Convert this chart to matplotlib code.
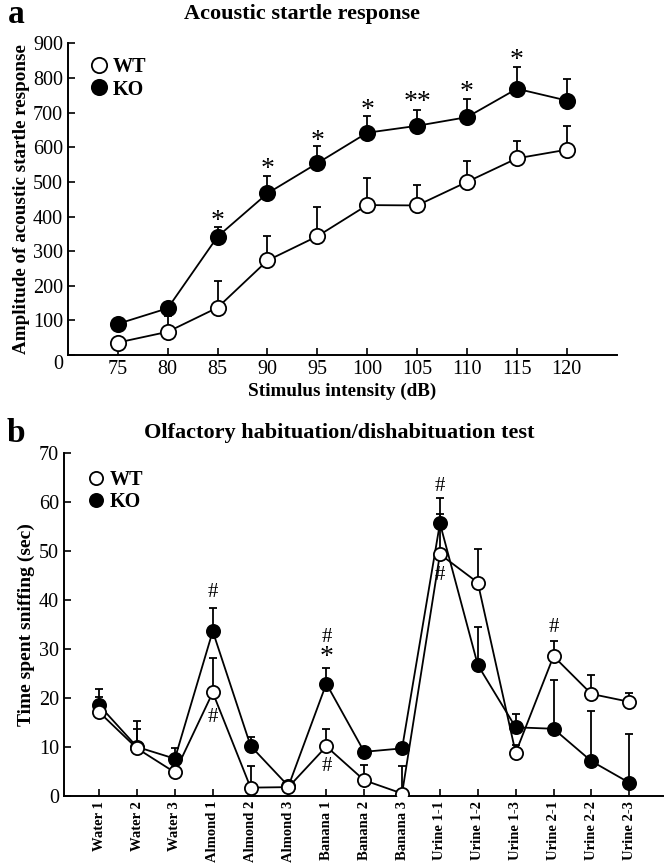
import matplotlib
matplotlib.use("Agg")
import matplotlib.pyplot as plt
import numpy as np

plt.rcParams['font.family'] = ['Liberation Serif', 'DejaVu Serif']

# panel a: acoustic startle
db = [75, 80, 85, 90, 95, 100, 105, 110, 115, 120]
wt_a = [36, 67, 137, 273, 343, 433, 432, 500, 568, 593]
wt_a_err = [10, 45, 77, 70, 85, 79, 60, 61, 49, 69]
ko_a = [90, 135, 342, 467, 554, 642, 662, 687, 769, 735]
ko_a_err = [10, 12, 27, 51, 50, 48, 45, 52, 62, 63]
stars_a = ['', '', '*', '*', '*', '*', '**', '*', '*', '']
stars_a_y = [0, 0, 398, 547, 630, 718, 742, 771, 862, 0]

# panel b: olfactory test
odors = ['Water 1', 'Water 2', 'Water 3', 'Almond 1', 'Almond 2', 'Almond 3',
         'Banana 1', 'Banana 2', 'Banana 3', 'Urine 1-1', 'Urine 1-2', 'Urine 1-3',
         'Urine 2-1', 'Urine 2-2', 'Urine 2-3']
wt_b = [17.1, 9.7, 4.8, 21.1, 1.7, 1.8, 10.1, 3.2, 0.5, 49.3, 43.5, 8.8, 28.5, 20.8, 19.2]
wt_b_err = [3.1, 5.5, 1.2, 7.1, 4.4, 1.0, 3.5, 3.2, 5.6, 8.2, 6.8, 1.5, 3.1, 3.8, 1.7]
ko_b = [18.5, 10.0, 7.6, 33.6, 10.2, 2.0, 22.9, 9.0, 9.7, 55.6, 26.7, 14.0, 13.7, 7.1, 2.7]
ko_b_err = [3.3, 3.7, 2.1, 4.8, 1.8, 0.9, 3.1, 1.0, 1.0, 5.1, 7.8, 2.7, 9.9, 10.2, 10.0]
# (category index, y, symbol)
marks_b = [(3, 41.4, '#'), (3, 15.9, '#'), (6, 32.4, '#'), (6, 29.2, '*'), (6, 6.1, '#'),
           (9, 63.2, '#'), (9, 44.9, '#'), (12, 34.3, '#')]

fig = plt.figure(figsize=(6.66, 8.68), dpi=100)


def style(ax):
    for s in ['top', 'right']:
        ax.spines[s].set_visible(False)
    for s in ['left', 'bottom']:
        ax.spines[s].set_linewidth(1.4)
    ax.tick_params(direction='in', length=5, width=1.2, labelsize=14.5)


def draw(ax, x, wt, wt_err, ko, ko_err, ms, top):
    ax.errorbar(x, ko, yerr=[np.zeros(len(ko)), ko_err], fmt='none', ecolor='black',
                elinewidth=1.3, capsize=3, capthick=1.3, zorder=1)
    ax.errorbar(x, wt, yerr=[np.zeros(len(wt)), wt_err], fmt='none', ecolor='black',
                elinewidth=1.3, capsize=3, capthick=1.3, zorder=1)
    ko_line, = ax.plot(x, ko, '-o', color='black', mfc='black', mec='black', ms=ms,
                       lw=1.3, mew=1.3, zorder=3, label='KO')
    wt_line, = ax.plot(x, wt, '-o', color='black', mfc='white', mec='black', ms=ms,
                       lw=1.3, mew=1.3, zorder=4, label='WT')
    ax.legend(handles=[wt_line, ko_line], loc='upper left', frameon=False,
              handlelength=0.6, handletextpad=0.4, borderaxespad=0.3,
              labelspacing=0.1, prop={'weight': 'bold', 'size': 14.5},
              bbox_to_anchor=(0.02, top))
    for h in ax.get_legend().legend_handles:
        h.set_linestyle('none')
        h.set_markersize(ms)


# ---- panel a ----
ax1 = fig.add_axes([0.102, 0.591, 0.824, 0.359])
style(ax1)
draw(ax1, db, wt_a, wt_a_err, ko_a, ko_a_err, 11, 1.0)
for xv, s, yv in zip(db, stars_a, stars_a_y):
    if s:
        ax1.text(xv, yv - 12, s, ha='center', va='center', fontsize=20)
ax1.set_xlim(70, 125)
ax1.set_ylim(0, 900)
ax1.set_xticks(db)
ax1.set_yticks(np.arange(0, 901, 100))
ax1.yaxis.get_major_ticks()[0].label1.set_verticalalignment('top')
ax1.set_xlabel('Stimulus intensity (dB)', fontsize=13.8, fontweight='bold', labelpad=3)
ax1.set_ylabel('Amplitude of acoustic startle response', fontsize=13.7,
               fontweight='bold', labelpad=2)
fig.text(0.453, 0.984, 'Acoustic startle response', ha='center', va='center',
         fontsize=16, fontweight='bold')
fig.text(0.012, 0.983, 'a', ha='left', va='center', fontsize=24, fontweight='bold')

# ---- panel b ----
ax2 = fig.add_axes([0.096, 0.083, 0.9, 0.3955])
style(ax2)
xb = np.arange(len(odors))
draw(ax2, xb, wt_b, wt_b_err, ko_b, ko_b_err, 9.5, 0.99)
for i, yv, s in marks_b:
    if s == '*':
        ax2.text(i, yv - 1.0, s, ha='center', va='center', fontsize=20)
    else:
        ax2.text(i, yv, s, ha='center', va='center', fontsize=15)
ax2.set_xlim(-0.93, 14.9)
ax2.set_ylim(0, 70)
ax2.set_xticks(xb)
ax2.set_xticklabels(odors, rotation=90, fontsize=10.5, fontweight='bold')
ax2.set_yticks(np.arange(0, 71, 10))
ax2.set_ylabel('Time spent sniffing (sec)', fontsize=14, fontweight='bold', labelpad=3)
fig.text(0.51, 0.501, 'Olfactory habituation/dishabituation test', ha='center',
         va='center', fontsize=16, fontweight='bold')
fig.text(0.01, 0.501, 'b', ha='left', va='center', fontsize=24, fontweight='bold')

fig.savefig('out.png', dpi=100)
